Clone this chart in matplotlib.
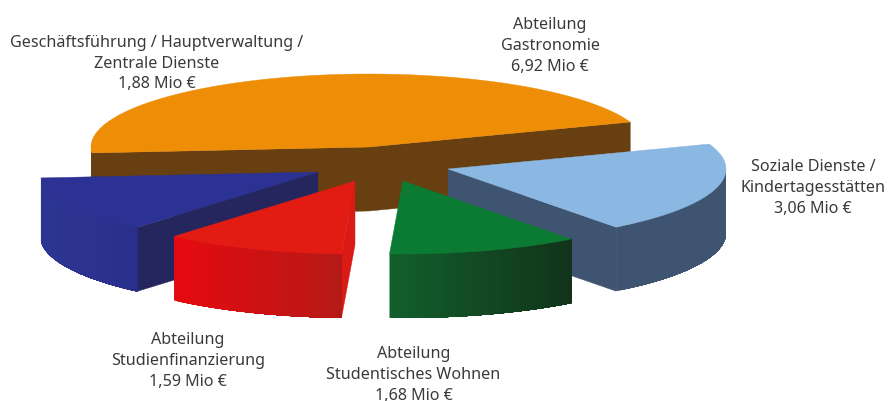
import numpy as np
import matplotlib
matplotlib.use("Agg")
import matplotlib.pyplot as plt
from matplotlib.colors import to_rgb
from matplotlib.patches import Polygon

# Daten (Mio Euro), Reihenfolge gegen den Uhrzeigersinn ab Startwinkel
namen = ["Abteilung\nGastronomie",
         "Geschäftsführung / Hauptverwaltung /\nZentrale Dienste",
         "Abteilung\nStudienfinanzierung",
         "Abteilung\nStudentisches Wohnen",
         "Soziale Dienste /\nKindertagesstätten"]
werte = [6.92, 1.88, 1.59, 1.68, 3.06]

# Layout in Pixeln
startwinkel = 20.0
zentrum = (378, 163)
rx, ry = 278, 73
tiefe = 64
versatz_x = [-9, -60, -23, 25, 70]
versatz_y = [-15, 10, 19, 19, 7]
label_x = [550, 156.5, 188, 413.5, 813]
label_y = [46, 63.5, 361, 375, 188]

farbe_oben = ["#EE8D06", "#2B3293", "#E31C13", "#0B7A33", "#8AB8E3"]
farbe_wand_links = ["#683F10", "#2D3593", "#E60A10", "#125F2C", "#3F5470"]
farbe_wand_rechts = ["#683F10", "#2A2F8C", "#B51A17", "#12331A", "#3F5470"]
farbe_schnitt = ["#683F10", "#25265E", "#DA1A14", "#125F2C", "#3F5470"]

# Zeichenreihenfolge: hinten nach vorne
reihenfolge = [0, 1, 4, 2, 3]


def ellipsenpunkte(cx, cy, winkel):
    rad = np.radians(winkel)
    return cx + rx * np.cos(rad), cy - ry * np.sin(rad)


def zeichne_stueck(ax, cx, cy, w0, w1, i):
    # Schnittflaechen, nur wenn sie zum Betrachter zeigen
    for w, normale in ((w0, w0 - 90), (w1, w1 + 90)):
        if np.sin(np.radians(normale)) < 0:
            x, y = ellipsenpunkte(cx, cy, w)
            ax.add_patch(Polygon([(cx, cy), (x, y), (x, y + tiefe), (cx, cy + tiefe)],
                                 facecolor=farbe_schnitt[i], edgecolor=farbe_schnitt[i], lw=0.3))

    winkel = np.linspace(w0, w1, 121)
    xs, ys = ellipsenpunkte(cx, cy, winkel)

    # Aussenwand: jeder Streifen reicht bis zum Ende, sonst gibt es Stoesse im Verlauf
    vorne = np.where(np.sin(np.radians(winkel)) < 0)[0]
    if len(vorne) > 1:
        links, rechts = np.array(to_rgb(farbe_wand_links[i])), np.array(to_rgb(farbe_wand_rechts[i]))
        wx, wy = xs[vorne], ys[vorne]
        for k in range(0, len(wx) - 1):
            t = (wx[k] - wx[0]) / (wx[-1] - wx[0])
            c = links + (rechts - links) * t
            oben = list(zip(wx[k:], wy[k:]))
            unten = list(zip(wx[k:], wy[k:] + tiefe))[::-1]
            ax.add_patch(Polygon(oben + unten, facecolor=c, edgecolor="none"))

    # Deckel
    punkte = [(cx, cy)] + list(zip(xs, ys))
    ax.add_patch(Polygon(punkte, facecolor=farbe_oben[i], edgecolor=farbe_oben[i], lw=0.3))


fig = plt.figure(figsize=(8.88, 4.02), dpi=100)
ax = fig.add_axes([0, 0, 1, 1])
ax.set_xlim(0, 888)
ax.set_ylim(402, 0)
ax.axis("off")

anteile = np.array(werte) / sum(werte) * 360
grenzen = startwinkel + np.concatenate(([0], np.cumsum(anteile)))

for i in reihenfolge:
    zeichne_stueck(ax, zentrum[0] + versatz_x[i], zentrum[1] + versatz_y[i],
                   grenzen[i], grenzen[i + 1], i)

for i, name in enumerate(namen):
    wert = f"{werte[i]:.2f}".replace(".", ",")
    ax.text(label_x[i], label_y[i], f"{name}\n{wert} Mio €", ha="center", va="center",
            family="Noto Sans", fontsize=11.6, color="#3A3A3A", linespacing=1.38)

fig.savefig("out.png", dpi=100)
